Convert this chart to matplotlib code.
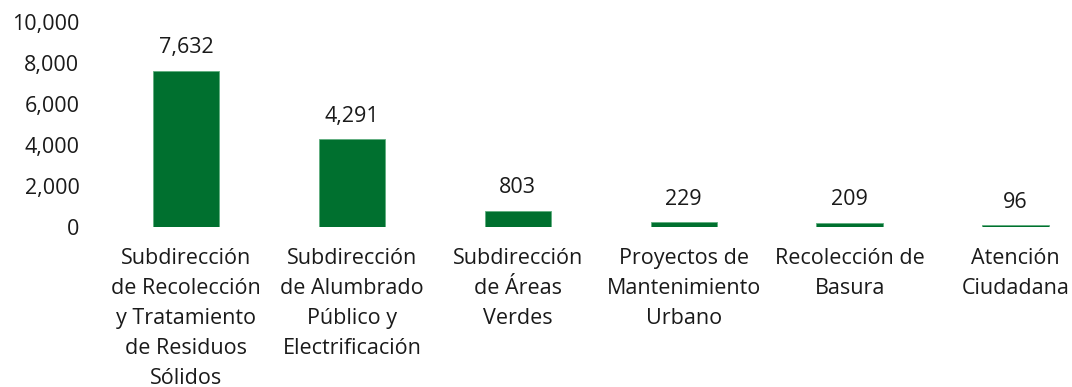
import matplotlib
matplotlib.use("Agg")
import matplotlib.pyplot as plt
from matplotlib.ticker import FuncFormatter

categories = [
    "Subdirección\nde Recolección\ny Tratamiento\nde Residuos\nSólidos",
    "Subdirección\nde Alumbrado\nPúblico y\nElectrificación",
    "Subdirección\nde Áreas\nVerdes",
    "Proyectos de\nMantenimiento\nUrbano",
    "Recolección de\nBasura",
    "Atención\nCiudadana",
]
values = [7632, 4291, 803, 229, 209, 96]
yticks = [0, 2000, 4000, 6000, 8000, 10000]

plt.rcParams["font.family"] = ["Open Sans", "DejaVu Sans"]
color = "#00702F"
fs = 15.5

fig = plt.figure(figsize=(10.72, 3.87), dpi=100)
W, H = 1072, 387
ax = fig.add_axes([103 / W, 1 - 227 / H, (1072 - 103) / W, (227 - 22) / H])

x = list(range(len(values)))
ax.bar(x, values, width=0.4, color=color, edgecolor="#5fae7f", linewidth=0.6)
for xi, v in zip(x, values):
    ax.text(xi, v + 600, f"{v:,}", ha="center", va="bottom", fontsize=fs, color="#1a1a1a")

ax.set_ylim(0, 10000)
ax.set_xlim(-0.5, 5.34)
ax.set_yticks(yticks)
ax.yaxis.set_major_formatter(FuncFormatter(lambda v, p: f"{int(v):,}"))
ax.set_xticks(x)
ax.set_xticklabels(categories, fontsize=fs, linespacing=1.56, color="#1a1a1a")
ax.tick_params(axis="both", length=0, labelsize=fs, colors="#1a1a1a")
ax.tick_params(axis="x", pad=15)
ax.tick_params(axis="y", pad=17)
for s in ax.spines.values():
    s.set_visible(False)

fig.savefig("out.png", dpi=100)
